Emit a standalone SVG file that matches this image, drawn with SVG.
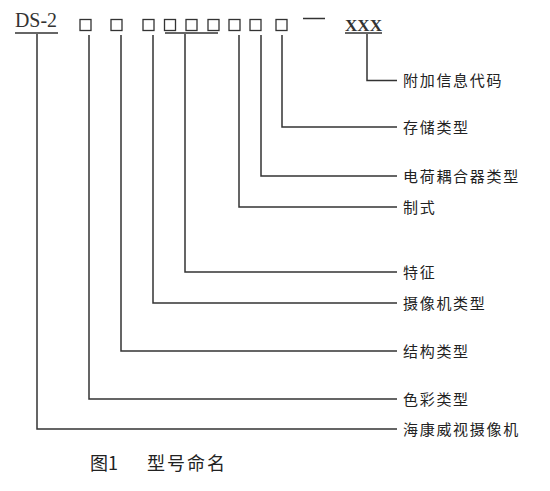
<svg xmlns="http://www.w3.org/2000/svg" width="550" height="491" viewBox="0 0 550 491">
<style>
.bx{fill:none;stroke:#333;stroke-width:1.3}
.ln{fill:none;stroke:#333;stroke-width:1.5}
.lb{font-family:"Noto Sans CJK SC","Noto Sans",sans-serif;font-size:15px;fill:#222;letter-spacing:1.7px}
.cap{font-family:"Noto Sans CJK SC","Noto Sans",sans-serif;font-size:18px;fill:#222}
.code{font-family:"Liberation Serif",serif;fill:#333}
</style>
<rect width="550" height="491" fill="#fff"/>
<g id="code">
<text class="code" x="15" y="27" font-size="20" textLength="42" lengthAdjust="spacingAndGlyphs">DS-2</text>
<line class="ln" x1="15" y1="33" x2="58" y2="33" stroke-width="2" stroke="#555"/>
<rect class="bx" x="80" y="19.5" width="11" height="11"/>
<rect class="bx" x="111" y="19.5" width="11" height="11"/>
<rect class="bx" x="143" y="19.5" width="11" height="11"/>
<rect class="bx" x="164.5" y="19.5" width="11" height="11"/>
<rect class="bx" x="186" y="19.5" width="11" height="11"/>
<rect class="bx" x="208" y="19.5" width="11" height="11"/>
<rect class="bx" x="229" y="19.5" width="11" height="11"/>
<rect class="bx" x="250" y="19.5" width="11" height="11"/>
<rect class="bx" x="276" y="19.5" width="11" height="11"/>
<line class="ln" x1="165" y1="33" x2="218" y2="33" stroke-width="2" stroke="#555"/>
<line class="ln" x1="303" y1="18.5" x2="325" y2="18.5"/>
<text class="code" x="345" y="30.5" font-size="16" font-weight="bold" textLength="37" lengthAdjust="spacingAndGlyphs">XXX</text>
<line class="ln" x1="345" y1="33" x2="382" y2="33" stroke-width="2" stroke="#555"/>
</g>
<g id="connectors">
<polyline class="ln" points="367,34 367,80.5 397,80.5"/>
<polyline class="ln" points="282,35 282,127 397,127"/>
<polyline class="ln" points="261,35 261,176 397,176" stroke-width="2" stroke="#222"/>
<polyline class="ln" points="239,35 239,207 397,207" stroke-width="2" stroke="#666"/>
<polyline class="ln" points="185,34 185,272 397,272" stroke-width="2" stroke="#111"/>
<polyline class="ln" points="153,35 153,303 397,303"/>
<polyline class="ln" points="121,35 121,351 397,351" stroke-width="1.8" stroke="#222"/>
<polyline class="ln" points="89,35 89,399 397,399"/>
<polyline class="ln" points="37,34 37,429 397,429" stroke="#555"/>
</g>
<g id="label-fujia"><text class="lb" x="403" y="86">附加信息代码</text></g>
<g id="label-cunchu"><text class="lb" x="403" y="132.5">存储类型</text></g>
<g id="label-dianhe"><text class="lb" x="403" y="181.5">电荷耦合器类型</text></g>
<g id="label-zhishi"><text class="lb" x="403" y="212.5">制式</text></g>
<g id="label-tezheng"><text class="lb" x="403" y="277.5">特征</text></g>
<g id="label-shexiangji"><text class="lb" x="403" y="308.5">摄像机类型</text></g>
<g id="label-jiegou"><text class="lb" x="403" y="356.5">结构类型</text></g>
<g id="label-secai"><text class="lb" x="403" y="404.5">色彩类型</text></g>
<g id="label-haikang"><text class="lb" x="403" y="434.5">海康威视摄像机</text></g>
<g id="caption">
<text class="cap" x="90" y="470">图1</text>
<text class="cap" x="147" y="470" letter-spacing="2">型号命名</text>
</g>
</svg>
